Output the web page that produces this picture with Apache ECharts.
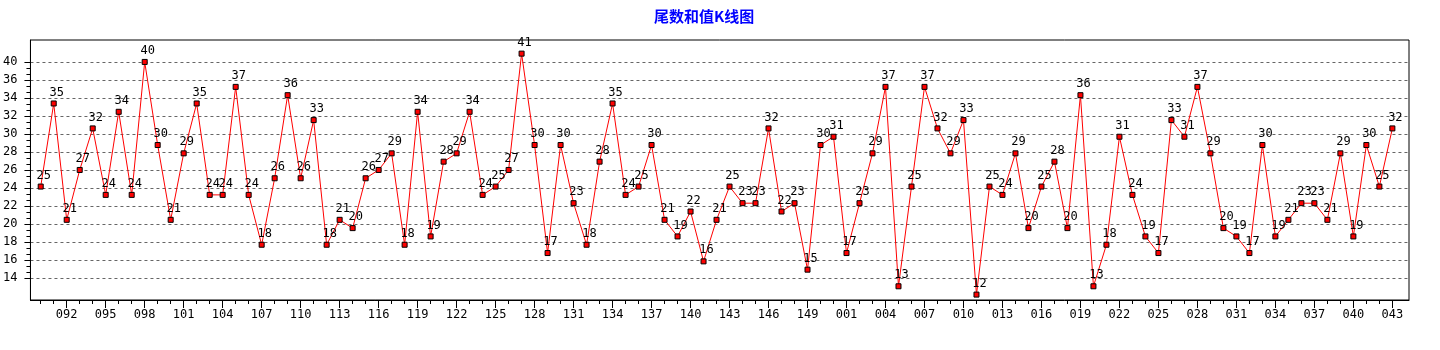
<!DOCTYPE html>
<html>
<head>
<meta charset="utf-8">
<script src="https://cdn.jsdelivr.net/npm/echarts@6/dist/echarts.min.js"></script>
<style>
html,body{margin:0;padding:0;background:#fff;}
#chart{width:1440px;height:350px;}
</style>
</head>
<body>
<div id="chart"></div>
<script>
// ---- data ----
const categories = [
  '090','091','092','093','094','095','096','097','098','099',
  '100','101','102','103','104','105','106','107','108','109',
  '110','111','112','113','114','115','116','117','118','119',
  '120','121','122','123','124','125','126','127','128','129',
  '130','131','132','133','134','135','136','137','138','139',
  '140','141','142','143','144','145','146','147','148','149',
  '150','151',
  '001','002','003','004','005','006','007','008','009','010',
  '011','012','013','014','015','016','017','018','019','020',
  '021','022','023','024','025','026','027','028','029','030',
  '031','032','033','034','035','036','037','038','039','040',
  '041','042','043'
];
const sumValues = [
  25,35,21,27,32,24,34,24,40,30,
  21,29,35,24,24,37,24,18,26,36,
  26,33,18,21,20,26,27,29,18,34,
  19,28,29,34,24,25,27,41,30,17,
  30,23,18,28,35,24,25,30,21,19,
  22,16,21,25,23,23,32,22,23,15,
  30,31,
  17,23,29,37,13,25,37,32,29,33,
  12,25,24,29,20,25,28,20,36,13,
  18,31,24,19,17,33,31,37,29,20,
  19,17,30,19,21,23,23,21,29,19,
  30,25,32
];
// y tick labels, bottom to top (as printed on the reference)
const yTickLabels = ['14','16','18','20','22','24','26','28','30','32','34','36','40'];
const titleText = '尾数和值K线图';

// ---- derived ----
const seriesData = sumValues.map((v, i) => [i, v]);
const labeledIdx = categories.map((c, i) => i).filter(i => i % 3 === 2);
const allIdx = categories.map((c, i) => i);
const yMajor = yTickLabels.map((t, i) => i);
const yMinor = [];
for (let i = 0; i < yTickLabels.length - 1; i++) { yMinor.push(i + 1/3, i + 2/3); }

const FONT = 'DejaVu Sans Mono';
const X_MIN = -0.79, X_MAX = 105.28;

const chart = echarts.init(document.getElementById('chart'), null, {renderer: 'canvas'});
chart.setOption({
  animation: false,
  backgroundColor: '#ffffff',
  title: {
    text: titleText,
    left: 649, top: 4,
    textStyle: {color: '#0000ff', fontWeight: 'bold', fontSize: 15, fontFamily: 'Noto Sans CJK SC'}
  },
  grid: {left: 30, right: 31, top: 40, bottom: 50, show: true, borderColor: '#000', borderWidth: 1, backgroundColor: '#fff', containLabel: false},
  xAxis: [
    {
      type: 'value', position: 'bottom', min: X_MIN, max: X_MAX,
      axisLine: {show: true, onZero: false, lineStyle: {color: '#000', width: 1}},
      axisTick: {show: true, customValues: labeledIdx, length: 8, lineStyle: {color: '#000'}},
      axisLabel: {show: true, customValues: labeledIdx, margin: 9, color: '#000', fontFamily: FONT, fontSize: 12,
        formatter: v => categories[Math.round(v)] || ''},
      splitLine: {show: false}
    },
    {
      type: 'value', position: 'bottom', min: X_MIN, max: X_MAX,
      axisLine: {show: false, onZero: false},
      axisTick: {show: true, customValues: allIdx, length: 4, lineStyle: {color: '#000'}},
      axisLabel: {show: false},
      splitLine: {show: false}
    }
  ],
  yAxis: [
    {
      type: 'value', min: 11.35, max: 42.64, show: false,
      axisLine: {onZero: false}, splitLine: {show: false}
    },
    {
      type: 'value', position: 'left', min: -1.206, max: 13.239,
      axisLine: {show: true, onZero: false, lineStyle: {color: '#000', width: 1}},
      axisTick: {show: true, customValues: yMajor, length: 6, lineStyle: {color: '#000'}},
      axisLabel: {show: true, customValues: yMajor, margin: 13, color: '#000', fontFamily: FONT, fontSize: 12,
        formatter: v => yTickLabels[Math.round(v)] || ''},
      splitLine: {show: true, lineStyle: {color: '#666', type: [3, 3], width: 1}}
    },
    {
      type: 'value', position: 'left', min: -1.206, max: 13.239,
      axisLine: {show: false, onZero: false},
      axisTick: {show: true, customValues: yMinor, length: 4, lineStyle: {color: '#000'}},
      axisLabel: {show: false},
      splitLine: {show: false}
    }
  ],
  series: [{
    type: 'line',
    xAxisIndex: 0, yAxisIndex: 0,
    data: seriesData,
    symbol: 'rect', symbolSize: 5, showAllSymbol: true,
    itemStyle: {color: '#ff0000', borderColor: '#000', borderWidth: 1},
    lineStyle: {color: '#ff0000', width: 1},
    label: {show: true, position: 'top', distance: 2, offset: [3, 0], color: '#000', fontFamily: FONT, fontSize: 12,
      formatter: p => String(p.value[1])},
    emphasis: {disabled: true},
    z: 5
  }]
});
</script>
</body>
</html>
